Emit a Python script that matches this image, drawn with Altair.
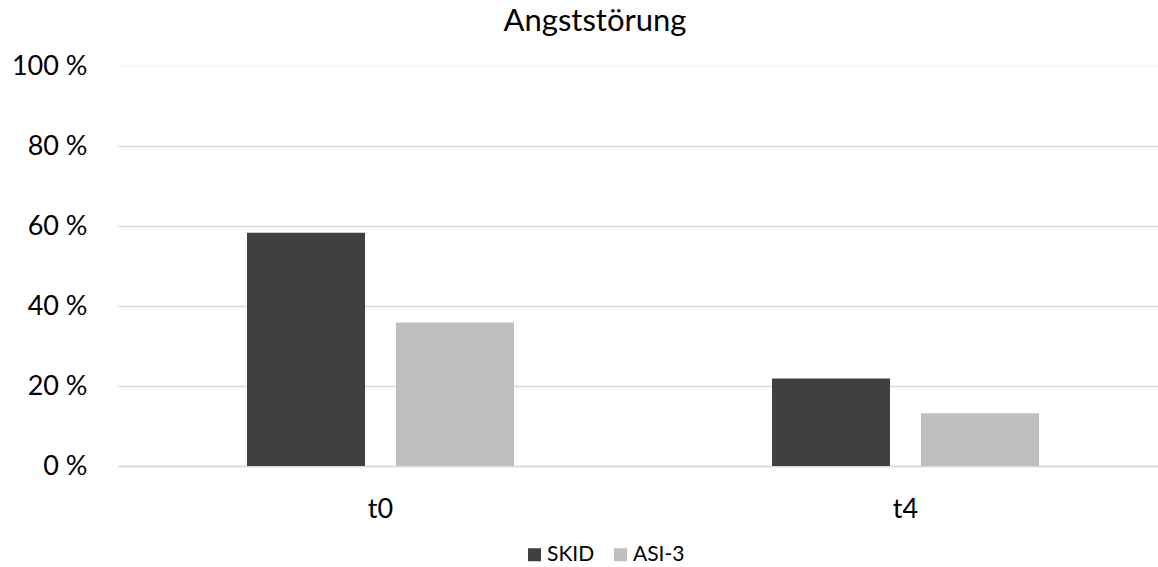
import altair as alt
import pandas as pd

# Share of patients with an anxiety disorder, by instrument and time point
zeitpunkte = ["t0", "t0", "t4", "t4"]
instrumente = ["SKID", "ASI-3", "SKID", "ASI-3"]
anteil = [58.3, 35.9, 21.9, 13.2]

serien = ["SKID", "ASI-3"]
farben = ["#404040", "#BFBFBF"]

df = pd.DataFrame({"Zeitpunkt": zeitpunkte, "Instrument": instrumente, "Anteil": anteil})

FONT = "Lato"

bars = alt.Chart(df).mark_bar().encode(
    x=alt.X(
        "Zeitpunkt:N",
        sort=["t0", "t4"],
        scale=alt.Scale(range=[0, 1050], paddingInner=0, paddingOuter=0),
        axis=alt.Axis(
            title=None,
            labelAngle=0,
            labelFontSize=27,
            labelPadding=30,
            labelColor="#000000",
            labelFont=FONT,
            ticks=False,
            domain=True,
            domainColor="#D9D9D9",
            domainWidth=1.5,
            grid=False,
        ),
    ),
    xOffset=alt.XOffset(
        "Instrument:N",
        sort=serien,
        scale=alt.Scale(paddingInner=0.208, paddingOuter=0.866),
    ),
    y=alt.Y(
        "Anteil:Q",
        scale=alt.Scale(domain=[0, 100], nice=False),
        axis=alt.Axis(
            title=None,
            values=[0, 20, 40, 60, 80, 100],
            labelExpr="datum.value + ' %'",
            labelFontSize=27,
            labelPadding=31,
            labelColor="#000000",
            labelFont=FONT,
            ticks=False,
            domain=False,
            grid=True,
            gridColor={
                "condition": {"test": "datum.value >= 100", "value": "#F4F4F4"},
                "value": "#D9D9D9",
            },
            gridWidth=1.5,
        ),
    ),
    color=alt.Color(
        "Instrument:N",
        sort=serien,
        scale=alt.Scale(domain=serien, range=farben),
        legend=alt.Legend(
            title=None,
            orient="none",
            direction="horizontal",
            legendX=406,
            legendY=478,
            symbolType="square",
            symbolSize=170,
            symbolStrokeWidth=0,
            symbolOpacity=1,
            labelFontSize=21,
            labelFont=FONT,
            labelColor="#000000",
            labelOffset=2,
            columnPadding=15,
        ),
    ),
)

chart = bars.properties(
    width=1040,
    height=400,
    title=alt.TitleParams(
        "Angststörung",
        fontSize=31,
        font=FONT,
        fontWeight="normal",
        color="#000000",
        anchor="middle",
        dx=-43,
        offset=14,
    ),
    autosize=alt.AutoSizeParams(type="none"),
    padding={"left": 118, "top": 66, "right": 0, "bottom": 101},
).configure_view(stroke=None)

chart.save("out.html", embed_options={"renderer": "svg", "actions": False})
